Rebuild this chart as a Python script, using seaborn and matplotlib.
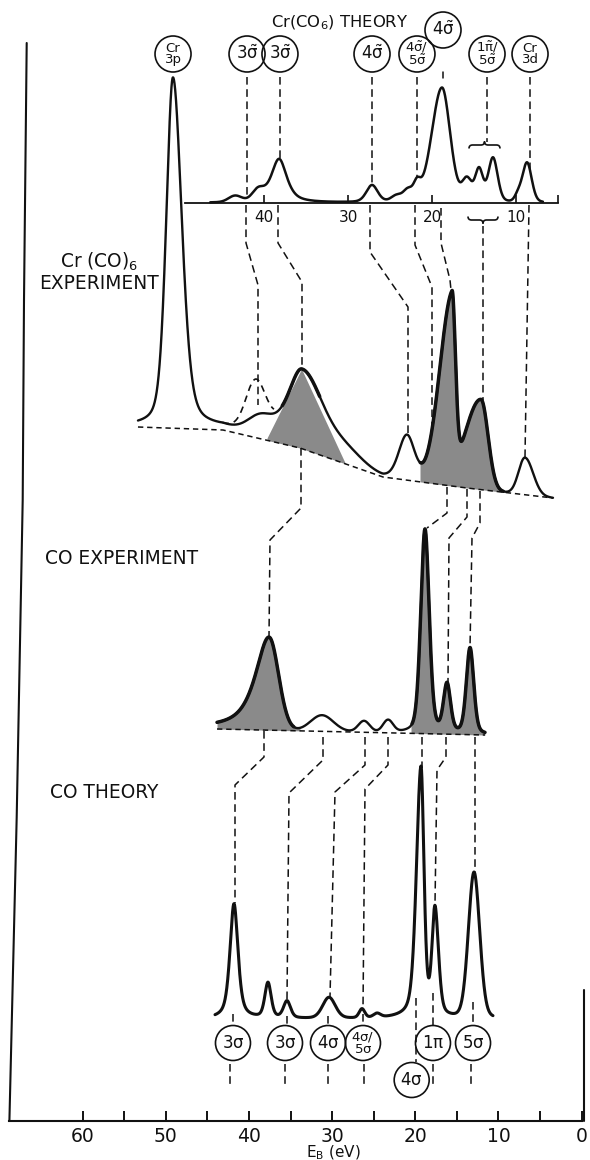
import numpy as np
import pandas as pd
import matplotlib
matplotlib.use("Agg")
import matplotlib.pyplot as plt
import seaborn as sns
from matplotlib.patches import Ellipse, PathPatch
from matplotlib.path import Path

sns.set_theme(style="white")
plt.rcParams['font.family'] = ['DejaVu Sans']
plt.rcParams['mathtext.fontset'] = 'dejavusans'
plt.rcParams['mathtext.default'] = 'regular'

# ======================= DATA =======================
major_ticks = [60, 50, 40, 30, 20, 10, 0]
minor_ticks = [55, 45, 35, 25, 15, 5]
inset_ticks = [40, 30, 20, 10]

# Cr(CO)6 theory (inset energy scale): centre, height, FWHM left/right, Lorentz fraction
crth_E = [43.45, 40.71, 38.21, 27.14, 24.17, 22.86, 21.79, 18.81, 15.83, 14.40, 12.74, 9.76, 8.69]
crth_h = [6, 10, 44, 17, 6, 10, 15, 115, 21, 32, 44, 6, 40]
crth_wl = [1.8, 1.6, 2.3, 1.6, 1.5, 1.2, 1.0, 2.9, 1.3, 1.1, 1.3, 0.9, 1.3]
crth_wr = [1.8, 1.6, 2.2, 1.6, 1.5, 1.2, 1.0, 2.3, 1.3, 1.1, 1.3, 0.9, 1.3]
crth_eta = [0, 0, 0.7, 0.3, 0, 0, 0.3, 0.2, 0, 0.2, 0.2, 0, 0.2]
crth_span = [46.4, 6.8]

# Cr(CO)6 experiment
crex_base_E = [53.36, 43.13, 33.87, 23.88, 13.78, 3.43]
crex_base_h = [694, 691, 673, 644, 633, 623]
crex_E = [49.15, 38.6, 33.63, 28.5, 21.0, 15.58, 12.09, 6.8]
crex_h = [350, 16, 78, 15, 45, 178, 90, 37]
crex_wl = [1.9, 3.5, 4.2, 5.0, 2.3, 3.6, 4.5, 1.8]
crex_wr = [2.5, 3.5, 5.6, 5.0, 2.2, 0.95, 2.0, 2.3]
crex_etal = [0.35, 0, 0.6, 0, 0.2, 0, 0, 0]
crex_etar = [0.35, 0, 0, 0, 0.2, 0, 0, 0]
crex_alt_E = [39.3]
crex_alt_h = [36]
crex_alt_w = [2.6]
crex_alt_span = [43.2, 37.0]

# CO experiment
coex_base_E = [43.85, 11.61]
coex_base_h = [392, 386]
coex_E = [37.6, 31.22, 26.17, 23.28, 18.83, 16.18, 13.41]
coex_h = [93, 16, 11, 12, 204, 48, 86]
coex_wl = [3.9, 3.2, 1.6, 1.4, 1.2, 1.0, 1.05]
coex_wr = [2.7, 3.2, 1.6, 1.4, 1.2, 1.0, 1.05]
coex_etal = [0.8, 0, 0, 0, 0.3, 0.3, 0.3]
coex_etar = [0, 0, 0, 0, 0.3, 0.3, 0.3]

# CO theory
coth_base = 102
coth_E = [41.81, 37.72, 35.43, 30.38, 26.41, 24.6, 19.31, 17.63, 12.93]
coth_h = [115, 35, 17, 21, 9, 4, 250, 107, 146]
coth_wl = [1.15, 0.9, 1.0, 1.8, 0.8, 1.0, 1.3, 0.85, 1.6]
coth_wr = [1.15, 0.9, 1.0, 1.8, 0.8, 1.0, 0.85, 1.0, 1.6]
coth_eta = [0.6, 0.4, 0.4, 0.2, 0.2, 0.2, 0.4, 0.4, 0.15]
coth_span = [44.09, 10.65]

top_labels = ['Cr\n3p', r'$3\tilde{\sigma}$', r'$3\tilde{\sigma}$', r'$4\tilde{\sigma}$',
              r'$4\tilde{\sigma}/$' + '\n' + r'$5\tilde{\sigma}$', r'$4\tilde{\sigma}$',
              r'$1\tilde{\pi}/$' + '\n' + r'$5\tilde{\sigma}$', 'Cr\n3d']
top_label_E = [50.83, 42.02, 38.10, 27.14, 21.79, 18.69, 13.45, 8.33]
top_label_raised = [False, False, False, False, False, True, False, False]
bot_labels = [r'$3\sigma$', r'$3\sigma$', r'$4\sigma$', r'$4\sigma/$' + '\n' + r'$5\sigma$',
              r'$4\sigma$', r'$1\pi$', r'$5\sigma$']
bot_label_E = [41.93, 35.67, 30.50, 26.29, 20.43, 17.87, 13.05]
bot_label_lowered = [False, False, False, False, True, False, False]


# ======================= HELPERS =======================
def pv(E, c, h, wl, wr, etal, etar):
    d = E - c
    w = np.where(d >= 0, wl, wr)
    eta = np.where(d >= 0, etal, etar)
    x = (d / w) ** 2
    return h * (eta / (1 + 4 * x) + (1 - eta) * np.exp(-4 * np.log(2) * x))


def spectrum(E, cs, hs, wls, wrs, etals, etars):
    y = np.zeros_like(E)
    for a in zip(cs, hs, wls, wrs, etals, etars):
        y += pv(E, *a)
    return y


W, H = 590, 1160
X0, PPE, YB, XL = 581.5, 8.312, 1121, 9.4   # layout: 0 eV pixel, px per eV, axis row
IX0, IX1, IY0, IY1, I40, IPPE = 185, 558, 203, 75, 264, 8.4   # inset layout


def P(x, y):
    return (X0 - x) / PPE, YB - y


INK = '#111111'
GRAY = '#8a8a8a'
DASH = (0, (5, 3))

fig = plt.figure(figsize=(W / 100, H / 100), dpi=100)
ax = fig.add_axes([XL / W, (H - YB) / H, (X0 - XL) / W, YB / H])
ax.set_facecolor('white')
for s in ['top', 'right', 'left']:
    ax.spines[s].set_visible(False)
ax.spines['bottom'].set_linewidth(1.5)
ax.spines['bottom'].set_color(INK)

# left (slightly skewed) and right frame lines
lx = [26.7, 24, 22.7, 16.7, 9.4]
ly = [43, 300, 500, 817, 1121]
ax.plot(*zip(*[P(a, b) for a, b in zip(lx, ly)]), color=INK, lw=1.5, clip_on=False)
ax.plot(*zip(*[P(584, 990), P(584, 1121)]), color=INK, lw=1.5, clip_on=False)

# ---------------- Cr(CO)6 experiment ----------------
E1 = np.linspace(crex_base_E[0], crex_base_E[-1], 3000)
base1 = np.interp(E1, crex_base_E[::-1], crex_base_h[::-1])
I1 = base1 + spectrum(E1, crex_E, crex_h, crex_wl, crex_wr, crex_etal, crex_etar)

ax.plot(crex_base_E, crex_base_h, color=INK, lw=1.1, ls=(0, (3.5, 2.5)))

(aE, ah), (bE, bh) = P(267, 438), P(282, 408)
(cE, ch), (dE, dh) = P(302, 370), P(347, 467)
lineL = ah + (E1 - aE) * (bh - ah) / (bE - aE)
lineR = ch + (E1 - cE) * (dh - ch) / (dE - cE)
up1 = np.minimum(I1, np.minimum(lineL, lineR))
m1 = (E1 <= aE) & (E1 >= dE) & (up1 > base1)
ax.fill_between(E1, base1, up1, where=m1, color=GRAY, lw=0)
m2 = (E1 <= P(420, 0)[0]) & (E1 >= P(503, 0)[0])
ax.fill_between(E1, base1, I1, where=m2, color=GRAY, lw=0)

df1 = pd.DataFrame({'E': E1, 'I': I1})
sns.lineplot(data=df1, x='E', y='I', ax=ax, color=INK, lw=1.7, sort=False, estimator=None)
for lo, hi in [(31.5, 36.0), (9.4, 19.4)]:
    mm = (E1 >= lo) & (E1 <= hi)
    ax.plot(E1[mm], I1[mm], color=INK, lw=2.5, solid_capstyle='round')

Ealt = np.linspace(crex_alt_span[0], crex_alt_span[1], 300)
Ialt = (np.interp(Ealt, crex_base_E[::-1], crex_base_h[::-1])
        + spectrum(Ealt, crex_E, crex_h, crex_wl, crex_wr, crex_etal, crex_etar)
        + spectrum(Ealt, crex_alt_E, crex_alt_h, crex_alt_w, crex_alt_w, [0], [0]))
ax.plot(Ealt, Ialt, color=INK, lw=1.2, ls=(0, (4, 3)))

# ---------------- CO experiment ----------------
E2 = np.linspace(coex_base_E[0], coex_base_E[-1], 3000)
base2 = np.interp(E2, coex_base_E[::-1], coex_base_h[::-1])
I2 = base2 + spectrum(E2, coex_E, coex_h, coex_wl, coex_wr, coex_etal, coex_etar)
ax.plot(coex_base_E, coex_base_h, color=INK, lw=1.1, ls=(0, (3.5, 2.5)))
for lo, hi in [(P(300, 0)[0], coex_base_E[0]), (coex_base_E[1], P(411, 0)[0])]:
    mm = (E2 >= lo) & (E2 <= hi)
    ax.fill_between(E2[mm], base2[mm], I2[mm], color=GRAY, lw=0)
df2 = pd.DataFrame({'E': E2, 'I': I2})
sns.lineplot(data=df2, x='E', y='I', ax=ax, color=INK, lw=1.7, sort=False, estimator=None)
for lo, hi in [(34.6, 43.9), (11.6, 20.4)]:
    mm = (E2 >= lo) & (E2 <= hi)
    ax.plot(E2[mm], I2[mm], color=INK, lw=2.5)

# ---------------- CO theory ----------------
E3 = np.linspace(coth_span[0], coth_span[1], 3000)
I3 = coth_base + spectrum(E3, coth_E, coth_h, coth_wl, coth_wr, coth_eta, coth_eta)
df3 = pd.DataFrame({'E': E3, 'I': I3})
sns.lineplot(data=df3, x='E', y='I', ax=ax, color=INK, lw=2.2, sort=False, estimator=None)

# main axis ticks (after seaborn, which sets its own labels)
ax.set_xlim((X0 - XL) / PPE, 0)
ax.set_ylim(0, YB)
ax.set_xticks(major_ticks)
ax.set_xticks(minor_ticks, minor=True)
ax.set_xticklabels([str(t) for t in major_ticks])
ax.tick_params(axis='x', which='both', direction='in', length=7.2, width=1.4,
               color=INK, bottom=True)
ax.tick_params(axis='x', which='major', labelsize=13.5, pad=4, labelcolor=INK)
ax.set_yticks([])
ax.set_xlabel('')
ax.set_ylabel('')

# ---------------- connectors (layout, in px) ----------------
conns = [
    [(246, 205), (246, 243), (258, 285), (258, 405)],
    [(278, 205), (278, 243), (302, 282), (302, 368)],
    [(370, 205), (370, 252), (408, 307), (408, 433)],
    [(415, 205), (415, 245), (432, 287), (432, 430)],
    [(441, 208), (441, 243), (450, 280), (451, 290)],
    [(483, 226), (483, 400)],
    [(529, 205), (525, 457)],
    [(301, 448), (301, 508), (270, 540), (269, 637)],
    [(447, 487), (447, 513), (427, 528)],
    [(467, 489), (467, 517), (449, 538), (448, 682)],
    [(480, 491), (480, 523), (472, 538), (470, 648)],
    [(264, 731), (264, 757), (235, 785), (235, 903)],
    [(323, 737), (323, 760), (289, 793), (287, 999)],
    [(365, 737), (365, 765), (335, 792), (330, 997)],
    [(388, 737), (388, 765), (365, 789), (363, 1009)],
    [(422, 737), (422, 768)],
    [(446, 737), (446, 757), (437, 770), (435, 904)],
    [(475, 737), (475, 872)],
    [(233, 1014), (233, 1025)], [(287, 1016), (287, 1025)], [(328, 1016), (328, 1025)],
    [(363, 1014), (363, 1025)], [(473, 1002), (473, 1025)], [(433, 993), (433, 1025)],
    [(416, 998), (416, 1062)],
    [(230, 1064), (230, 1086)], [(285, 1064), (285, 1086)], [(328, 1064), (328, 1086)],
    [(364, 1064), (364, 1086)], [(433, 1064), (433, 1086)], [(471, 1064), (471, 1086)],
]
for c in conns:
    xs, ys = zip(*[P(a, b) for a, b in c])
    ax.plot(xs, ys, color=INK, lw=1.1, ls=DASH)


def brace(x0, x1, y, h, point_up):
    s = -1 if point_up else 1
    xm = (x0 + x1) / 2
    v = [(x0, y - s * h), (x0, y), (x0 + h, y), (xm - h, y), (xm, y), (xm, y + s * h),
         (xm, y), (xm + h, y), (x1 - h, y), (x1, y), (x1, y - s * h)]
    codes = [Path.MOVETO, Path.CURVE3, Path.CURVE3, Path.LINETO, Path.CURVE3, Path.CURVE3,
             Path.CURVE3, Path.CURVE3, Path.LINETO, Path.CURVE3, Path.CURVE3]
    ax.add_patch(PathPatch(Path([P(a, b) for a, b in v], codes), fill=False,
                           lw=1.2, color=INK))


brace(469, 500, 145, 3.5, True)
brace(468, 498, 220, 3.5, False)

# CO theory circles
for lab, e, low in zip(bot_labels, bot_label_E, bot_label_lowered):
    yy = 41 if low else 78
    ax.add_patch(Ellipse((e, yy), 2 * 17.5 / PPE, 35, fill=False, lw=1.2, color=INK))
    two = '\n' in lab
    ax.text(e, yy, lab, ha='center', va='center', fontsize=9.5 if two else 12,
            linespacing=0.85, color=INK)

# text labels
fig.text(99 / W, 1 - 272 / H, 'Cr (CO)$_6$\nEXPERIMENT', ha='center', va='center',
         fontsize=13.4, linespacing=1.05, color=INK)
fig.text(45 / W, 1 - 558 / H, 'CO EXPERIMENT', ha='left', va='center', fontsize=13.4, color=INK)
fig.text(50 / W, 1 - 793 / H, 'CO THEORY', ha='left', va='center', fontsize=13.4, color=INK)
fig.text(340 / W, 1 - 23 / H, 'Cr(CO$_6$) THEORY', ha='center', va='center',
         fontsize=11.8, color=INK)
fig.text(333 / W, 1 - 1157 / H, r'E$_B$ (eV)', ha='center', va='baseline',
         fontsize=11, color=INK)

# ---------------- Cr(CO)6 theory inset ----------------
axi = fig.add_axes([IX0 / W, (H - IY0) / H, (IX1 - IX0) / W, (IY0 - IY1) / H])
il, ir = 40 + (I40 - IX0) / IPPE, 40 - (IX1 - I40) / IPPE
axi.patch.set_alpha(0)

E0 = np.linspace(crth_span[0], crth_span[1], 2000)
I0 = spectrum(E0, crth_E, crth_h, crth_wl, crth_wr, crth_eta, crth_eta)
df0 = pd.DataFrame({'E': E0, 'I': I0})
sns.lineplot(data=df0, x='E', y='I', ax=axi, color=INK, lw=1.8, sort=False,
             estimator=None, clip_on=False)

axi.set_xlim(il, ir)
axi.set_ylim(0, IY0 - IY1)
for s in ['top', 'right', 'left']:
    axi.spines[s].set_visible(False)
axi.spines['bottom'].set_linewidth(1.3)
axi.spines['bottom'].set_color(INK)
axi.set_yticks([])
axi.set_xticks(inset_ticks)
axi.set_xticks([ir], minor=True)
axi.set_xticklabels([str(t) for t in inset_ticks])
axi.tick_params(axis='x', which='both', direction='in', length=6, width=1.2, color=INK,
                bottom=True)
axi.tick_params(axis='x', which='major', labelsize=11, pad=5, labelcolor=INK)
axi.set_xlabel('')
axi.set_ylabel('')

ytop = 203 - 77
for lab, e, up in zip(top_labels, top_label_E, top_label_raised):
    yy = 173 if up else 149
    axi.add_patch(Ellipse((e, yy), 2 * 18 / IPPE, 36, fill=False, lw=1.2, color=INK,
                          clip_on=False))
    two = '\n' in lab
    axi.text(e, yy, lab, ha='center', va='center', fontsize=9.5 if two else 12,
             linespacing=0.85, color=INK, clip_on=False)
    if up:
        axi.plot([e, e], [ytop + 5, ytop - 1], color=INK, lw=1.1, clip_on=False)
        continue
    if e > crth_span[0]:
        continue
    yend = 203 - 142 if abs(e - 13.45) < 0.1 else float(
        spectrum(np.array([e]), crth_E, crth_h, crth_wl, crth_wr, crth_eta, crth_eta)[0])
    axi.plot([e, e], [ytop, yend], color=INK, lw=1.1, ls=DASH, clip_on=False)

fig.savefig('out.png', dpi=100)
